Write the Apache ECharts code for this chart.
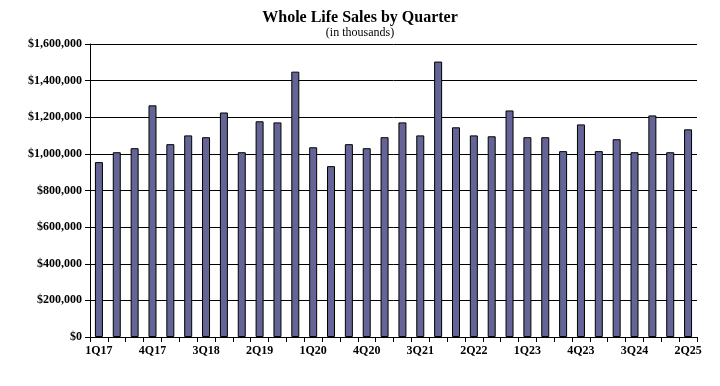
<!DOCTYPE html>
<html><head><meta charset="utf-8">
<script src="https://cdn.jsdelivr.net/npm/echarts@6/dist/echarts.min.js"></script>
<style>html,body{margin:0;padding:0;background:#fff}#c{width:720px;height:386px}</style>
</head><body><div id="c"></div>
<script>
const quarters = ['1Q17','2Q17','3Q17','4Q17','1Q18','2Q18','3Q18','4Q18','1Q19','2Q19','3Q19','4Q19',
  '1Q20','2Q20','3Q20','4Q20','1Q21','2Q21','3Q21','4Q21','1Q22','2Q22','3Q22','4Q22',
  '1Q23','2Q23','3Q23','4Q23','1Q24','2Q24','3Q24','4Q24','1Q25','2Q25'];
const sales = [955000,1009000,1031000,1265000,1053000,1101000,1091000,1226000,1009000,1178000,1172000,1449000,
  1036000,933000,1053000,1031000,1091000,1172000,1101000,1504000,1145000,1101000,1096000,1237000,
  1091000,1091000,1015000,1161000,1015000,1080000,1009000,1210000,1009000,1134000];
const titleText = 'Whole Life Sales by Quarter';
const subtitleText = '(in thousands)';

const chart = echarts.init(document.getElementById('c'));
const font = 'Liberation Serif, Times New Roman, serif';
chart.setOption({
  animation: false,
  title: {
    text: titleText, subtext: subtitleText, left: 'center', top: 5, itemGap: 1,
    textStyle: {fontFamily: font, fontWeight: 'bold', fontSize: 16, color: '#000'},
    subtextStyle: {fontFamily: font, fontSize: 12, color: '#000'}
  },
  grid: {left: 90, right: 23, top: 44, bottom: 49},
  xAxis: {
    type: 'category', data: quarters,
    axisLine: {lineStyle: {color: '#000', width: 1}},
    axisTick: {show: true, interval: 0, length: 5, lineStyle: {color: '#000'}},
    axisLabel: {interval: 2, fontFamily: font, fontWeight: 'bold', fontSize: 12, color: '#000', margin: 8}
  },
  yAxis: {
    type: 'value', min: 0, max: 1600000, interval: 200000,
    axisLine: {show: true, lineStyle: {color: '#000'}},
    axisTick: {show: true, length: 5, lineStyle: {color: '#000'}},
    splitLine: {lineStyle: {color: '#000', width: 1}},
    axisLabel: {
      fontFamily: font, fontWeight: 'bold', fontSize: 12, color: '#000', margin: 8,
      formatter: v => '$' + v.toLocaleString('en-US')
    }
  },
  series: [{
    type: 'bar', data: sales, barWidth: 8,
    itemStyle: {color: '#646496', borderColor: '#000', borderWidth: 1}
  }]
});
</script></body></html>
